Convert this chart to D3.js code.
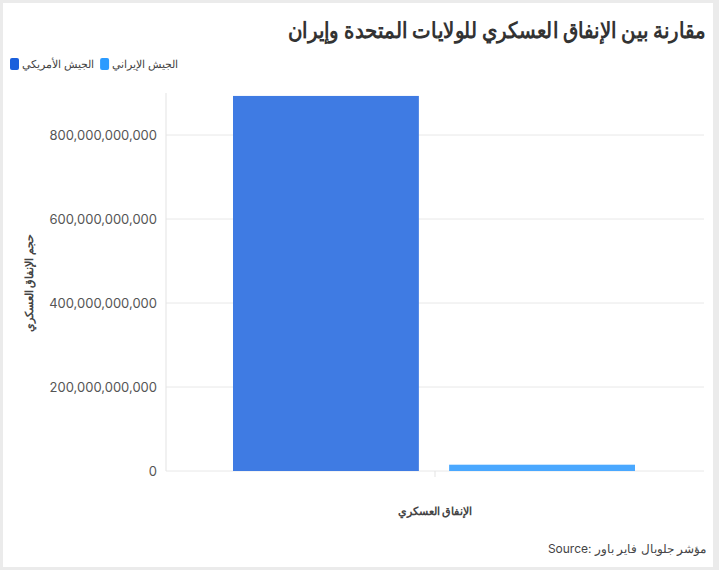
<!DOCTYPE html>
<html><head><meta charset="utf-8">
<script src="https://cdn.jsdelivr.net/npm/d3@7"></script>
<style>
body{margin:0;background:#ebebeb;font-family:Inter,"Noto Sans",sans-serif;}
</style></head><body>
<svg id="c" width="719" height="570"></svg>
<script>
var categories = ["الإنفاق العسكري"];
var seriesNames = ["الجيش الأمريكي", "الجيش الإيراني"];
var seriesColors = ["#3f7be3", "#4aa8ff"];
var seriesValues = [893000000000, 15000000000];
var yTicks = [0, 200000000000, 400000000000, 600000000000, 800000000000];

var svg = d3.select("#c");
svg.append("rect").attr("x", 3).attr("y", 3).attr("width", 710).attr("height", 564).attr("fill", "#fff");

svg.append("text").attr("x", 706).attr("y", 38).attr("text-anchor", "end")
	.attr("font-size", 22).attr("font-weight", "bold").attr("fill", "#333")
	.attr("textLength", 418).attr("lengthAdjust", "spacingAndGlyphs")
	.text("مقارنة بين الإنفاق العسكري للولايات المتحدة وإيران");

// legend
var lx = 10;
seriesNames.forEach(function(n, i) {
	svg.append("rect").attr("x", lx).attr("y", 58).attr("width", 9).attr("height", 12).attr("rx", 2).attr("fill", i == 0 ? "#1a5fdc" : "#2b9bff");
	var t = svg.append("text").attr("x", lx + 12).attr("y", 68).attr("font-size", 11).attr("fill", "#444").text(n);
	lx += 12 + t.node().getComputedTextLength() + 6;
});

var pLeft = 166, pRight = 704, pTop = 93, pBottom = 471;
var y = d3.scaleLinear().domain([0, 900000000000]).range([pBottom, pTop]);
var x0 = d3.scaleBand().domain(categories).range([pLeft, pRight]);
var x1 = d3.scaleBand().domain(seriesNames).range([67, 469]).paddingInner(0.14);

var g = svg.append("g");
g.selectAll(".grid").data(yTicks).enter().append("line")
	.attr("x1", pLeft).attr("x2", pRight).attr("y1", function(d) { return y(d); }).attr("y2", function(d) { return y(d); })
	.attr("stroke", "#e8e8e8");
g.append("line").attr("x1", pLeft).attr("x2", pLeft).attr("y1", pTop).attr("y2", pBottom).attr("stroke", "#e3e3e3");
g.selectAll(".tl").data(yTicks).enter().append("text")
	.attr("x", 157).attr("y", function(d) { return y(d) + 5; }).attr("text-anchor", "end")
	.attr("font-size", 13).attr("fill", "#555").text(function(d) { return d3.format(",")(d); });
g.append("line").attr("x1", x0(categories[0]) + x0.bandwidth() / 2).attr("x2", x0(categories[0]) + x0.bandwidth() / 2)
	.attr("y1", pBottom).attr("y2", pBottom + 6).attr("stroke", "#e3e3e3");

g.selectAll(".bar").data(seriesValues).enter().append("rect")
	.attr("x", function(d, i) { return x0(categories[0]) + x1(seriesNames[i]); })
	.attr("width", x1.bandwidth())
	.attr("y", function(d) { return y(d); })
	.attr("height", function(d) { return pBottom - y(d); })
	.attr("fill", function(d, i) { return seriesColors[i]; });

svg.append("text").attr("x", x0(categories[0]) + x0.bandwidth() / 2).attr("y", 515).attr("text-anchor", "middle")
	.attr("font-size", 11).attr("font-weight", "bold").attr("fill", "#444").text(categories[0]);

svg.append("text").attr("transform", "translate(33,283) rotate(-90)").attr("text-anchor", "middle")
	.attr("font-size", 11).attr("font-weight", "bold").attr("fill", "#444").text("حجم الإنفاق العسكري");

svg.append("text").attr("x", 706).attr("y", 553).attr("text-anchor", "end")
	.attr("font-size", 12).attr("fill", "#444").text("Source: مؤشر جلوبال فاير باور");
</script></body></html>
